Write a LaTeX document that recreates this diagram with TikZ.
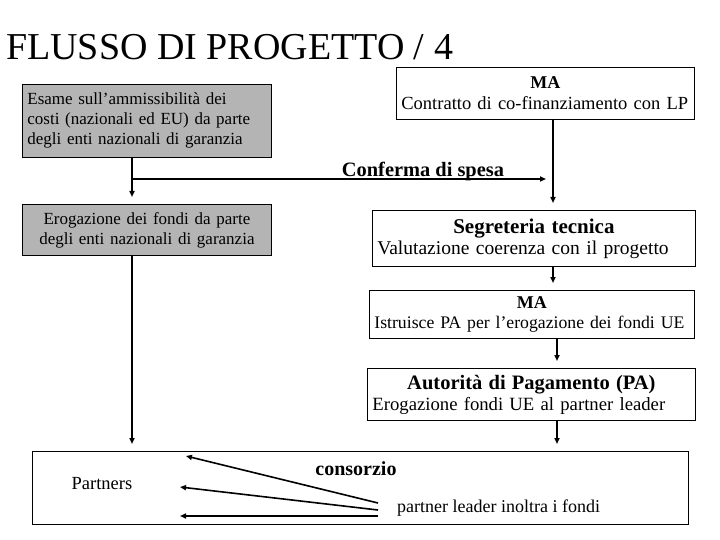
\documentclass[tikz,border=0pt]{standalone}
\usepackage{fontspec}
\setmainfont{Liberation Serif}
\usetikzlibrary{arrows.meta,positioning}
\definecolor{boxgray}{RGB}{180,180,180}

\begin{document}
\begin{tikzpicture}[x=1pt, y=-1pt, every node/.style={inner sep=0pt}, box/.style={draw, line width=.8pt, anchor=north west, inner xsep=5pt, inner ysep=2pt, align=left, font=\fontsize{17}{20}\selectfont}, greybox/.style={box, fill=boxgray}, hd/.style={font=\bfseries\fontsize{19}{22}\selectfont}, link/.style={->, line width=1.6pt, shorten >=7pt}, >={Triangle[length=6pt,width=5pt]}]
\useasboundingbox (0,0) rectangle (720,540);
\node[anchor=base west, font=\fontsize{38}{44}\selectfont] (title) at (6,60) {FLUSSO DI PROGETTO / 4};
\node[greybox, text width=239pt, minimum height=73pt] (esame) at (22,84) {Esame sull’ammissibilità dei\\costi (nazionali ed EU) da parte\\degli enti nazionali di garanzia};
\node[greybox, align=center, text width=239pt, minimum height=51pt] (erog) at (22,204) {Erogazione dei fondi da parte\\degli enti nazionali di garanzia};
\node[box, text width=288pt, minimum height=52pt, font=\fontsize{18.5}{21}\selectfont] (ma) at (396,67) {{\centering\bfseries\fontsize{18}{22}\selectfont MA\par}Contratto di co-finanziamento con LP};
\node[box, text width=313pt, minimum height=56pt, font=\fontsize{19.5}{21}\selectfont] (segr) at (372,210) {{\centering\bfseries\fontsize{21}{24}\selectfont Segreteria tecnica\par}Valutazione coerenza con il progetto};
\node[box, text width=315pt, minimum height=48pt, font=\fontsize{17.7}{20}\selectfont] (ma2) at (369,290) {{\centering\bfseries\fontsize{18}{22}\selectfont MA\par}Istruisce PA per l’erogazione dei fondi UE};
\node[box, text width=318pt, minimum height=52pt, font=\fontsize{18.7}{21}\selectfont] (pa) at (367,368) {{\centering\bfseries\fontsize{20.5}{24}\selectfont Autorità di Pagamento (PA)\par}Erogazione fondi UE al partner leader};
\node[draw, line width=.8pt, anchor=north west, minimum width=656pt, minimum height=73pt] (cons) at (32,451) {};
\node[font=\fontsize{18.5}{20}\selectfont] (partners) at (102,484) {Partners};
\node[hd, font=\bfseries\fontsize{20}{22}\selectfont] (consorzio) at (356,469) {consorzio};
\node[anchor=west, font=\fontsize{18}{20}\selectfont] (leader) at (397,508) {partner leader inoltra i fondi};
\node[anchor=base, font=\bfseries\fontsize{20.4}{23}\selectfont] (spesa) at (423,177) {Conferma di spesa};
% punti di appoggio
\coordinate (lx) at (132,0);
\coordinate (rx) at (553,0);
\coordinate (rx2) at (557,0);
\coordinate (split) at (132,179);
\coordinate (join) at (546,179);
\coordinate (t1) at (378,503); \coordinate (p1) at (186,456);
\coordinate (t2) at (378,510); \coordinate (p2) at (180,487);
\coordinate (t3) at (378,516); \coordinate (p3) at (180,516);
\draw[link] (esame.south -| lx) -- (erog.north -| lx);
\draw[link, shorten >=0pt] (split) -- (join);
\draw[link] (ma.south -| rx) -- (segr.north -| rx);
\draw[link] (segr.south -| rx) -- (ma2.north -| rx);
\draw[link] (ma2.south -| rx2) -- (pa.north -| rx2);
\draw[link] (pa.south -| rx2) -- (cons.north -| rx2);
\draw[link] (erog.south -| lx) -- (cons.north -| lx);
\draw[link, shorten >=0pt] (t1) -- (p1);
\draw[link, shorten >=0pt] (t2) -- (p2);
\draw[link, shorten >=0pt] (t3) -- (p3);
\end{tikzpicture}
\end{document}
